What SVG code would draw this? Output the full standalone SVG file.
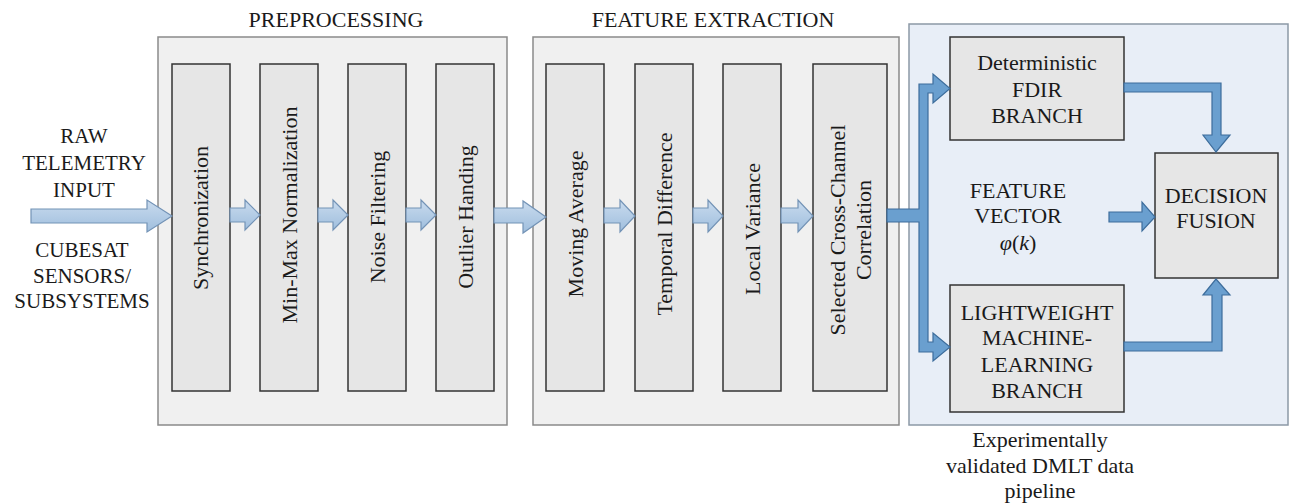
<svg xmlns="http://www.w3.org/2000/svg" width="1291" height="504" viewBox="0 0 1291 504" font-family="'Liberation Serif', 'Times New Roman', serif">
<defs>
<linearGradient id="lb" x1="0" y1="0" x2="0" y2="1">
<stop offset="0" stop-color="#c9dbee"/>
<stop offset="1" stop-color="#9fbedd"/>
</linearGradient>
<style>
text{font-family:'Liberation Serif','Times New Roman',serif;fill:#1a1a1a;font-size:22px;text-anchor:middle}
.t21{font-size:21px}
.grp{fill:#f0f0f0;stroke:#8a8a8a;stroke-width:1.5}
.stage{fill:#e6e6e6;stroke:#333;stroke-width:1.5}
.dml{fill:#e8eef7;stroke:#8c99a6;stroke-width:1.5}
.box{fill:#e6e6e6;stroke:#333;stroke-width:1.5}
.la{fill:url(#lb);stroke:#7393b6;stroke-width:1.2}
.da{fill:#6a9fcf;stroke:#3d6d9c;stroke-width:1.2}
</style>
</defs>
<rect width="1291" height="504" fill="#fff"/>

<g id="preprocessing">
<rect class="grp" x="158" y="37" width="349" height="388"/>
<text x="336" y="27">PREPROCESSING</text>
</g>
<g id="feature-extraction">
<rect class="grp" x="533" y="37" width="366" height="388"/>
<text x="713" y="27">FEATURE EXTRACTION</text>
</g>
<g id="dmlt-pipeline">
<rect class="dml" x="909" y="24" width="379" height="401"/>
<text x="1040" y="447">Experimentally</text>
<text x="1040" y="473">validated DMLT data</text>
<text x="1040" y="498">pipeline</text>
</g>

<g id="input-label">
<text class="t21" x="84" y="143">RAW</text>
<text class="t21" x="84" y="170">TELEMETRY</text>
<text class="t21" x="84" y="197">INPUT</text>
<text class="t21" x="82" y="257">CUBESAT</text>
<text class="t21" x="82" y="283">SENSORS/</text>
<text class="t21" x="82" y="308">SUBSYSTEMS</text>
</g>

<g id="synchronization">
<rect class="stage" x="172" y="64" width="58" height="327"/>
<text transform="translate(208,218) rotate(-90)">Synchronization</text>
</g>
<g id="minmax">
<rect class="stage" x="260" y="64" width="58" height="327"/>
<text transform="translate(297,215) rotate(-90)">Min-Max Normalization</text>
</g>
<g id="noise">
<rect class="stage" x="348" y="64" width="58" height="327"/>
<text transform="translate(385,217) rotate(-90)">Noise Filtering</text>
</g>
<g id="outlier">
<rect class="stage" x="436" y="64" width="58" height="327"/>
<text transform="translate(473,217) rotate(-90)">Outlier Handing</text>
</g>
<g id="moving-average">
<rect class="stage" x="546" y="64" width="58" height="327"/>
<text transform="translate(583,224) rotate(-90)">Moving Average</text>
</g>
<g id="temporal-difference">
<rect class="stage" x="635" y="64" width="58" height="327"/>
<text transform="translate(672,224) rotate(-90)">Temporal Difference</text>
</g>
<g id="local-variance">
<rect class="stage" x="723" y="64" width="58" height="327"/>
<text transform="translate(760,229) rotate(-90)">Local Variance</text>
</g>
<g id="cross-channel">
<rect class="stage" x="813" y="64" width="74" height="327"/>
<text transform="translate(845,230) rotate(-90)">Selected Cross-Channel</text>
<text transform="translate(871,230) rotate(-90)">Correlation</text>
</g>

<g id="deterministic">
<rect class="box" x="950" y="37" width="174" height="103"/>
<text x="1037" y="70">Deterministic</text>
<text x="1037" y="97">FDIR</text>
<text x="1037" y="123">BRANCH</text>
</g>
<g id="feature-vector">
<text x="1018" y="198">FEATURE</text>
<text x="1018" y="223">VECTOR</text>
<text x="1018" y="250"><tspan font-style="italic">φ</tspan>(<tspan font-style="italic">k</tspan>)</text>
</g>
<g id="decision-fusion">
<rect class="box" x="1155" y="153" width="123" height="125"/>
<text x="1216" y="203">DECISION</text>
<text x="1216" y="228">FUSION</text>
</g>
<g id="lightweight">
<rect class="box" x="950" y="285" width="174" height="127"/>
<text x="1037" y="320">LIGHTWEIGHT</text>
<text x="1037" y="345">MACHINE-</text>
<text x="1037" y="372">LEARNING</text>
<text x="1037" y="398">BRANCH</text>
</g>

<g id="connectors">
<polygon class="la" points="31,209 147,209 147,200 172,216 147,232 147,223 31,223"/>
<polygon class="la" points="230,208 245,208 245,200 260,215 245,230 245,222 230,222"/>
<polygon class="la" points="318,208 333,208 333,200 348,215 333,230 333,222 318,222"/>
<polygon class="la" points="406,208 421,208 421,200 436,215 421,230 421,222 406,222"/>
<polygon class="la" points="494,208 523,208 523,201 546,217 523,233 523,223 494,223"/>
<polygon class="la" points="604,208 620,208 620,200 635,216 620,232 620,223 604,223"/>
<polygon class="la" points="693,208 708,208 708,200 723,216 708,232 708,223 693,223"/>
<polygon class="la" points="781,208 798,208 798,200 813,216 798,232 798,223 781,223"/>
<path class="da" d="M887,209 L919,209 L919,84 L933,84 L933,74 L950,88.5 L933,103 L933,93 L928,93 L928,342 L933,342 L933,333 L950,347 L933,361 L933,352 L919,352 L919,222 L887,222 Z"/>
<path class="da" d="M1124,83 L1221,83 L1221,135 L1230,135 L1216,152 L1203,135 L1212,135 L1212,92 L1124,92 Z"/>
<path class="da" d="M1124,351 L1222,351 L1222,295 L1230,295 L1216,279 L1203,295 L1212,295 L1212,342 L1124,342 Z"/>
<path class="da" d="M1109,212 L1142,212 L1142,202 L1155,217 L1142,231 L1142,222 L1109,222 Z"/>
</g>
</svg>
